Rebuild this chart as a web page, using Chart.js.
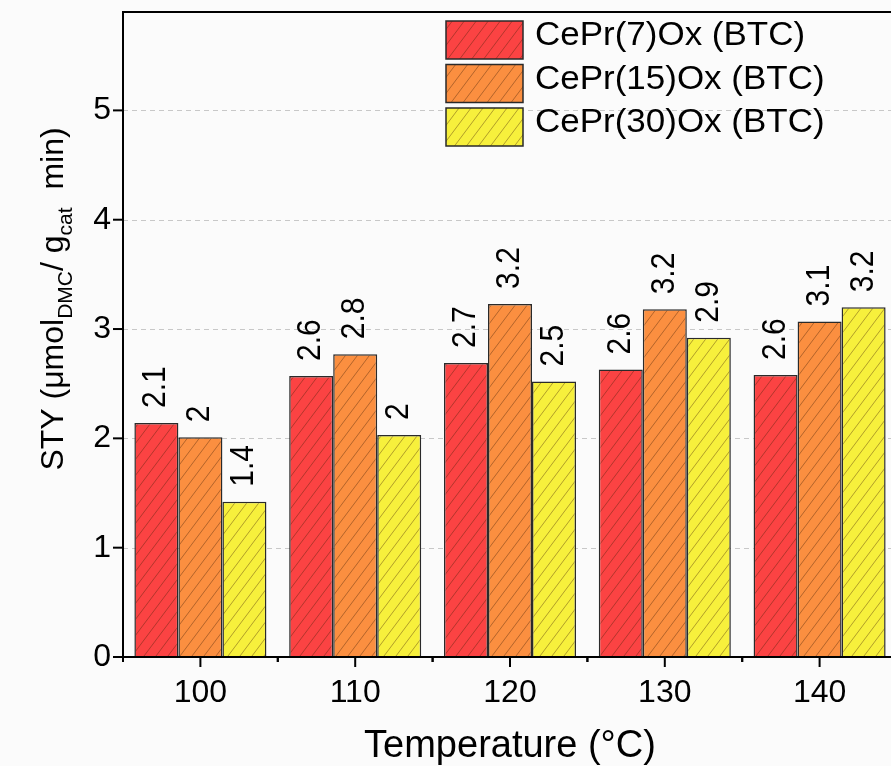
<!DOCTYPE html>
<html>
<head>
<meta charset="utf-8">
<script src="https://cdn.jsdelivr.net/npm/chart.js@4.4.1/dist/chart.umd.min.js"></script>
<style>
  html, body { margin: 0; padding: 0; overflow: hidden; background: #fbfbfb; }
  canvas { display: block; }
</style>
</head>
<body>
<canvas id="sty" width="910" height="766"></canvas>
<script>
// Reaction temperatures (°C) on the x axis
const temperatures = ['100', '110', '120', '130', '140'];
// Catalyst series
const seriesNames = ['CePr(7)Ox (BTC)', 'CePr(15)Ox (BTC)', 'CePr(30)Ox (BTC)'];
// Space-time yield, µmol DMC / (g cat · min)
const styCePr7  = [2.14, 2.57, 2.69, 2.63, 2.58];
const styCePr15 = [2.01, 2.77, 3.23, 3.18, 3.07];
const styCePr30 = [1.42, 2.03, 2.52, 2.92, 3.20];
// Y axis tick values
const yTicks = [0, 1, 2, 3, 4, 5];

const FONT = "'Liberation Sans', Arial, Helvetica, sans-serif";
const fillColors = ['#fb4343', '#fb8f40', '#f7f03c'];

// Diagonal hatch fill used for bars and legend swatches
function hatch(color) {
  const w = 12, h = 16;
  const t = document.createElement('canvas');
  t.width = w; t.height = h;
  const g = t.getContext('2d');
  g.fillStyle = color;
  g.fillRect(0, 0, w, h);
  g.strokeStyle = 'rgba(70,35,10,0.5)';
  g.lineWidth = 0.8;
  for (const dx of [-w, 0, w]) {
    g.beginPath();
    g.moveTo(dx - 3, h + 4);
    g.lineTo(dx + w + 3, -4);
    g.stroke();
  }
  return g.createPattern(t, 'repeat');
}
const patterns = fillColors.map(hatch);

function fmt(v) { return String(Math.round(v * 10) / 10); }

const decor = {
  id: 'decor',
  beforeDraw(chart) {
    const { ctx, width, height } = chart;
    ctx.save();
    ctx.fillStyle = '#fbfbfb';
    ctx.fillRect(0, 0, width, height);
    ctx.restore();
  },
  beforeDatasetsDraw(chart) {
    const { ctx, chartArea: a, scales: { y } } = chart;
    ctx.save();
    ctx.strokeStyle = '#c8c8c8';
    ctx.lineWidth = 1;
    ctx.setLineDash([5, 4]);
    y.ticks.forEach(t => {
      if (t.value <= 0) return;
      const py = Math.round(y.getPixelForValue(t.value)) + 0.5;
      ctx.beginPath();
      ctx.moveTo(a.left, py);
      ctx.lineTo(a.right, py);
      ctx.stroke();
    });
    ctx.restore();
  },
  afterDatasetsDraw(chart) {
    const { ctx, chartArea: a, scales: { x, y } } = chart;
    ctx.save();

    // frame
    ctx.strokeStyle = '#000';
    ctx.lineWidth = 2;
    ctx.strokeRect(a.left, a.top, a.right - a.left, a.bottom - a.top);

    // y ticks (outward)
    y.ticks.forEach(t => {
      const py = y.getPixelForValue(t.value);
      ctx.beginPath();
      ctx.moveTo(a.left - 10, py);
      ctx.lineTo(a.left, py);
      ctx.stroke();
    });

    // x ticks: major at category centres, minor at category boundaries
    temperatures.forEach((_, i) => {
      const px = x.getPixelForValue(i);
      ctx.beginPath();
      ctx.moveTo(px, a.bottom);
      ctx.lineTo(px, a.bottom + 10);
      ctx.stroke();
      for (const b of [i - 0.5, i + 0.5]) {
        const bx = x.getPixelForValue(b);
        ctx.beginPath();
        ctx.moveTo(bx, a.bottom);
        ctx.lineTo(bx, a.bottom + 5);
        ctx.stroke();
      }
    });

    // value labels above bars, rotated
    ctx.fillStyle = '#000';
    ctx.font = '30px ' + FONT;
    ctx.textAlign = 'left';
    ctx.textBaseline = 'middle';
    chart.data.datasets.forEach((ds, di) => {
      const meta = chart.getDatasetMeta(di);
      meta.data.forEach((bar, j) => {
        ctx.save();
        ctx.translate(bar.x, bar.y - 15);
        ctx.scale(1.09, 1);
        ctx.rotate(-Math.PI / 2);
        ctx.fillText(fmt(ds.data[j]), 0, 0);
        ctx.restore();
      });
    });

    // legend
    const lx = a.left + 323, ly = a.top + 9, bw = 77, bh = 38, pitch = 43.5;
    ctx.font = '33px ' + FONT;
    ctx.textBaseline = 'middle';
    chart.data.datasets.forEach((ds, di) => {
      const top = ly + di * pitch;
      ctx.fillStyle = patterns[di];
      ctx.fillRect(lx, top, bw, bh);
      ctx.lineWidth = 1.5;
      ctx.strokeStyle = '#2a2a2a';
      ctx.strokeRect(lx, top, bw, bh);
      ctx.fillStyle = '#000';
      ctx.save();
      ctx.translate(lx + bw + 12, top + bh / 2 - 4);
      ctx.scale(1.06, 1);
      ctx.fillText(ds.label, 0, 0);
      ctx.restore();
    });

    // y axis title with subscripts
    const parts = [['STY (\u03bcmol', false], ['DMC', true], ['/ g', false], ['cat', true], ['  min)', false]];
    const mainF = '32px ' + FONT, subF = '21px ' + FONT;
    let total = 0;
    parts.forEach(([s, sub]) => { ctx.font = sub ? subF : mainF; total += ctx.measureText(s).width; });
    ctx.translate(63, 299);
    ctx.rotate(-Math.PI / 2);
    ctx.textBaseline = 'alphabetic';
    ctx.fillStyle = '#000';
    let cx = -total / 2;
    parts.forEach(([s, sub]) => {
      ctx.font = sub ? subF : mainF;
      ctx.fillText(s, cx, sub ? 9 : 0);
      cx += ctx.measureText(s).width;
    });

    ctx.restore();
  }
};

new Chart(document.getElementById('sty'), {
  type: 'bar',
  data: {
    labels: temperatures,
    datasets: [styCePr7, styCePr15, styCePr30].map((d, i) => ({
      label: seriesNames[i],
      data: d,
      backgroundColor: patterns[i],
      borderColor: '#2a2a2a',
      borderWidth: 1.5,
      barPercentage: 1,
      categoryPercentage: 0.853
    }))
  },
  options: {
    responsive: false,
    devicePixelRatio: 1,
    animation: false,
    layout: { padding: { top: 12, right: 13, bottom: 0, left: 0 } },
    plugins: { legend: { display: false }, tooltip: { enabled: false } },
    scales: {
      x: {
        type: 'category',
        offset: true,
        grid: { display: false, drawTicks: false },
        border: { display: false },
        ticks: { color: '#000', font: { family: FONT, size: 32 }, padding: 17, maxRotation: 0 },
        title: {
          display: true,
          text: 'Temperature (\u00b0C)',
          color: '#000',
          font: { family: FONT, size: 38, lineHeight: 1 },
          padding: { top: 0, bottom: 0 }
        },
        afterFit(s) { s.height = 109; s.paddingLeft = 0; s.paddingRight = 0; }
      },
      y: {
        min: 0,
        max: 5.9,
        grid: { display: false, drawTicks: false },
        border: { display: false },
        ticks: { color: '#000', font: { family: FONT, size: 32 }, padding: 12, includeBounds: false },
        afterBuildTicks(s) { s.ticks = yTicks.map(v => ({ value: v })); },
        afterFit(s) { s.width = 123; s.paddingTop = 0; s.paddingBottom = 0; }
      }
    }
  },
  plugins: [decor]
});
</script>
</body>
</html>
